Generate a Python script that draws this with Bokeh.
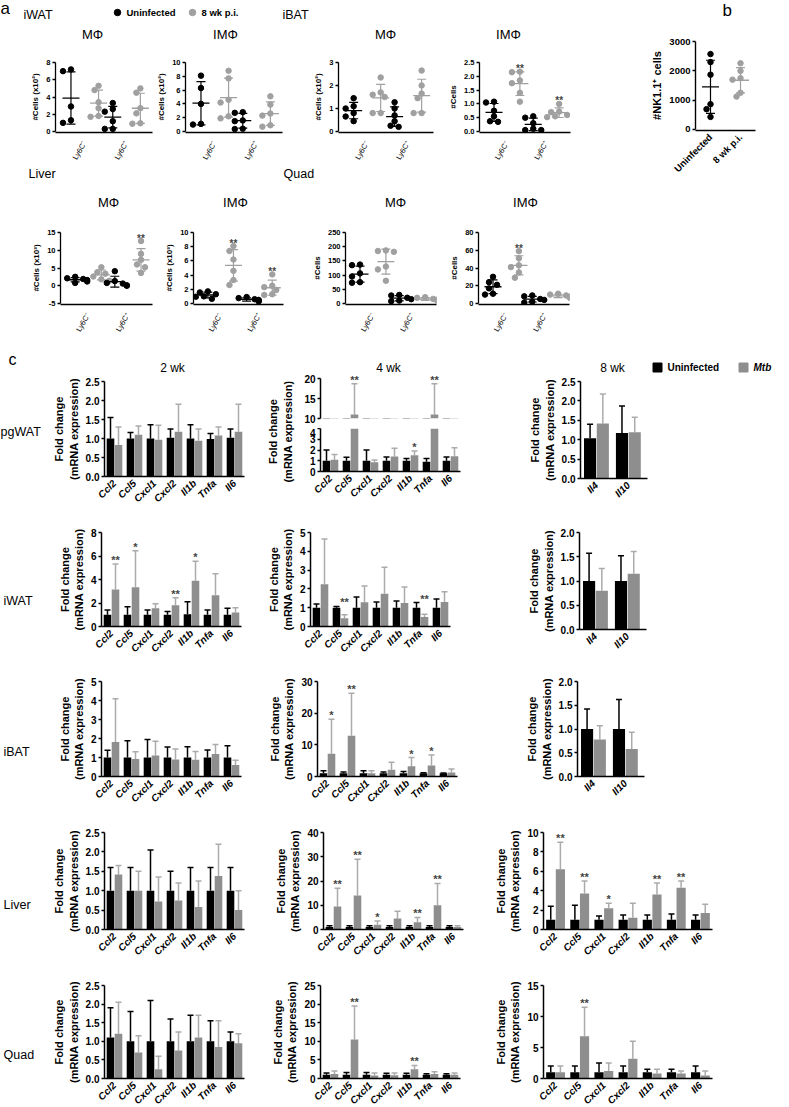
import numpy as np
from bokeh.plotting import figure
from bokeh.models import (Range1d, FixedTicker, Whisker, TeeHead, ColumnDataSource,
                          Label, LabelSet, NumeralTickFormatter)
from bokeh.layouts import row, column
from bokeh.embed import file_html
from bokeh.resources import INLINE
from bokeh.core.properties import value

FONT = "Liberation Sans"
BLACK = "#000000"
DOT_GRAY = "#a0a0a0"
BAR_GRAY = "#8e8e8e"
ERR_GRAY = "#ababab"

# ---------------- panel a / b data ----------------
LY6C = ["Ly6C\u207b", "Ly6C\u207a"]
iwat_mf_uninf = [[7.0, 7.2, 2.9, 1.3, 1.0], [3.3, 2.6, 2.3, 1.2, 0.3, 0.3]]
iwat_mf_inf = [[5.3, 4.8, 3.4, 2.7, 1.8, 1.7], [5.0, 4.5, 2.7, 2.1, 0.9, 0.95]]
iwat_imf_uninf = [[8.1, 6.3, 4.0, 1.1, 1.0], [2.8, 2.7, 1.6, 1.5, 0.4, 0.35]]
iwat_imf_inf = [[8.8, 7.7, 4.6, 4.2, 2.2, 1.9], [5.1, 3.9, 2.6, 2.3, 0.9, 0.7]]
ibat_mf_uninf = [[1.45, 1.1, 1.0, 0.8, 0.65, 0.45], [1.27, 1.0, 0.7, 0.45, 0.25, 0.2]]
ibat_mf_inf = [[2.35, 1.7, 1.6, 1.5, 0.8, 0.8], [2.65, 2.0, 1.65, 1.45, 0.8, 0.8]]
ibat_imf_uninf = [[1.08, 1.05, 0.75, 0.55, 0.37, 0.35], [0.55, 0.5, 0.3, 0.1, 0.05, 0.05]]
ibat_imf_inf = [[2.17, 2.15, 1.85, 1.75, 1.4, 1.08], [1.0, 0.72, 0.7, 0.6, 0.55, 0.52]]
liver_mf_uninf = [[2.5, 2.1, 1.9, 1.6, 1.2, 0.8], [4.1, 1.3, 0.8, 0.6, 0.1, 0.0]]
liver_mf_inf = [[5.2, 3.8, 3.4, 2.6, 1.8, 1.4], [12.6, 9.0, 7.3, 6.0, 5.2, 3.6]]
liver_imf_uninf = [[1.7, 1.55, 1.3, 1.0, 0.95, 0.65], [0.9, 0.75, 0.6, 0.5, 0.35, 0.3]]
liver_imf_inf = [[8.1, 7.4, 6.2, 4.6, 3.3, 2.6], [4.1, 2.5, 2.3, 1.9, 1.3, 1.2]]
quad_mf_uninf = [[137, 135, 106, 95, 75, 73], [30, 28, 20, 15, 10, 8]]
quad_mf_inf = [[187, 185, 182, 130, 120, 80], [22, 20, 16, 14, 12, 10]]
quad_imf_uninf = [[30, 24, 21, 17, 11, 10], [9, 8, 5, 4, 2, 1]]
quad_imf_inf = [[59, 51, 43, 41, 35, 29], [11, 10, 9, 8, 7, 6]]
nk_groups = ["Uninfected", "8 wk p.i."]
nk_uninf = [2575, 2300, 1870, 860, 690, 425]
nk_inf = [2260, 2000, 1750, 1700, 1250, 1120]

# ---------------- panel c data ----------------
genes = ["Ccl2", "Ccl5", "Cxcl1", "Cxcl2", "Il1b", "Tnfa", "Il6"]
genes_8wk = ["Il4", "Il10"]

pgwat_2wk_u = [1.00, 1.00, 1.00, 1.02, 1.00, 0.99, 1.02]
pgwat_2wk_usd = [0.55, 0.16, 0.36, 0.23, 0.36, 0.14, 0.23]
pgwat_2wk_m = [0.83, 1.10, 0.97, 1.18, 0.94, 1.08, 1.18]
pgwat_2wk_msd = [0.47, 0.23, 0.38, 0.72, 0.31, 0.22, 0.72]
pgwat_2wk_sig = ["", "", "", "", "", "", ""]

pgwat_4wk_u = [1.0, 1.0, 1.0, 1.0, 1.0, 0.9, 1.0]
pgwat_4wk_usd = [1.0, 0.33, 1.0, 0.36, 0.2, 0.3, 0.36]
pgwat_4wk_m = [1.1, 11.0, 0.87, 1.4, 1.52, 11.0, 1.43]
pgwat_4wk_msd = [0.48, 7.7, 0.21, 0.77, 0.38, 7.7, 0.77]
pgwat_4wk_sig = ["", "**", "", "", "*", "**", ""]

pgwat_8wk_u = [1.04, 1.17]
pgwat_8wk_usd = [0.36, 0.70]
pgwat_8wk_m = [1.42, 1.19]
pgwat_8wk_msd = [0.76, 0.39]

iwat_2wk_u = [1.0, 1.0, 1.0, 1.0, 1.05, 1.0, 1.0]
iwat_2wk_usd = [0.41, 0.69, 0.4, 0.27, 1.06, 0.4, 0.55]
iwat_2wk_m = [3.15, 3.35, 1.55, 1.8, 3.89, 2.65, 1.2]
iwat_2wk_msd = [2.17, 3.1, 0.39, 0.65, 1.66, 1.83, 0.4]
iwat_2wk_sig = ["**", "*", "", "**", "*", "", ""]

iwat_4wk_u = [1.0, 1.0, 1.0, 1.0, 1.0, 1.0, 1.0]
iwat_4wk_usd = [0.2, 0.07, 0.57, 0.3, 0.35, 0.27, 0.46]
iwat_4wk_m = [2.25, 0.44, 1.29, 1.74, 1.25, 0.5, 1.3]
iwat_4wk_msd = [2.4, 0.19, 0.86, 1.41, 0.85, 0.15, 0.55]
iwat_4wk_sig = ["", "**", "", "", "", "**", ""]

iwat_8wk_u = [1.0, 1.0]
iwat_8wk_usd = [0.57, 0.52]
iwat_8wk_m = [0.8, 1.15]
iwat_8wk_msd = [0.46, 0.46]

ibat_2wk_u = [1.0, 1.0, 1.0, 1.0, 1.0, 1.0, 1.0]
ibat_2wk_usd = [0.38, 0.88, 0.95, 0.55, 0.57, 0.4, 0.62]
ibat_2wk_m = [1.81, 0.92, 1.1, 0.9, 0.88, 1.18, 0.6]
ibat_2wk_msd = [2.28, 0.38, 0.75, 0.55, 0.44, 0.5, 0.25]
ibat_2wk_sig = ["", "", "", "", "", "", ""]

ibat_4wk_u = [1.0, 1.0, 1.0, 1.0, 1.0, 1.0, 1.0]
ibat_4wk_usd = [0.8, 0.4, 0.8, 0.4, 0.6, 0.2, 0.1]
ibat_4wk_m = [7.2, 12.9, 1.05, 2.1, 3.2, 3.5, 1.26]
ibat_4wk_msd = [10.9, 13.4, 0.75, 2.4, 2.8, 3.3, 1.14]
ibat_4wk_sig = ["*", "**", "", "", "*", "*", ""]

ibat_8wk_u = [1.0, 1.0]
ibat_8wk_usd = [0.42, 0.62]
ibat_8wk_m = [0.78, 0.58]
ibat_8wk_msd = [0.29, 0.35]

liver_2wk_u = [1.0, 1.0, 1.0, 1.0, 1.0, 1.0, 1.0]
liver_2wk_usd = [0.6, 0.6, 1.05, 0.5, 0.6, 0.6, 0.6]
liver_2wk_m = [1.42, 1.0, 0.72, 0.75, 0.58, 1.38, 0.5]
liver_2wk_msd = [0.23, 0.5, 0.63, 0.45, 0.67, 0.82, 0.5]
liver_2wk_sig = ["", "", "", "", "", "", ""]

liver_4wk_u = [1.0, 1.0, 1.0, 1.0, 1.0, 1.0, 1.0]
liver_4wk_usd = [0.5, 0.5, 0.5, 0.5, 0.5, 0.5, 0.5]
liver_4wk_m = [9.5, 14.0, 2.0, 4.5, 3.0, 10.0, 1.0]
liver_4wk_msd = [7.5, 15.0, 1.5, 3.0, 2.0, 9.0, 0.5]
liver_4wk_sig = ["**", "**", "*", "", "**", "**", ""]

liver_8wk_u = [1.0, 1.0, 1.0, 1.0, 1.0, 1.0, 1.0]
liver_8wk_usd = [1.4, 1.5, 0.4, 0.5, 0.5, 0.6, 0.5]
liver_8wk_m = [6.2, 3.7, 2.2, 1.2, 3.6, 4.3, 1.7]
liver_8wk_msd = [2.8, 1.3, 0.5, 1.5, 1.2, 0.7, 0.9]
liver_8wk_sig = ["**", "**", "*", "", "**", "**", ""]

quad_2wk_u = [1.1, 1.0, 1.0, 1.0, 1.0, 1.0, 1.0]
quad_2wk_usd = [0.8, 0.8, 1.1, 0.6, 0.7, 0.55, 0.25]
quad_2wk_m = [1.2, 0.7, 0.25, 0.75, 1.1, 0.85, 0.95]
quad_2wk_msd = [0.85, 0.45, 0.35, 0.5, 0.6, 0.7, 0.25]
quad_2wk_sig = ["", "", "", "", "", "", ""]

quad_4wk_u = [1.0, 1.0, 1.0, 1.0, 1.0, 1.0, 1.0]
quad_4wk_usd = [0.5, 0.6, 0.6, 0.4, 0.4, 0.3, 0.3]
quad_4wk_m = [1.2, 10.5, 0.8, 0.9, 2.5, 1.2, 1.0]
quad_4wk_msd = [0.8, 9.0, 0.7, 0.6, 1.0, 0.6, 0.5]
quad_4wk_sig = ["", "**", "", "", "**", "", ""]

quad_8wk_u = [1.0, 1.0, 1.0, 1.0, 1.0, 1.0, 1.0]
quad_8wk_usd = [1.0, 1.0, 1.5, 1.0, 0.5, 0.5, 1.0]
quad_8wk_m = [1.0, 6.8, 1.2, 3.2, 0.8, 0.8, 0.5]
quad_8wk_msd = [1.0, 4.7, 1.3, 2.8, 0.7, 0.4, 0.7]
quad_8wk_sig = ["", "**", "", "", "", "", ""]

YLAB = "Fold change\n(mRNA expression)"


# ---------------- helpers ----------------
def make_fig(dims, xr, yr, xaxis=True, yaxis=True):
    lb, fw, rb, tb, fh, bb = dims
    p = figure(frame_width=fw, frame_height=fh, min_border_left=lb, min_border_right=rb,
               min_border_top=tb, min_border_bottom=bb,
               x_range=Range1d(*xr), y_range=Range1d(*yr),
               x_axis_location="below" if xaxis else None,
               y_axis_location="left" if yaxis else None,
               output_backend="svg", toolbar_location=None)
    p.xgrid.visible = False
    p.ygrid.visible = False
    p.outline_line_color = None
    return p


def style(p, tick_fs, lab_fs, lw=1.4, tick_out=3):
    for ax in p.axis:
        ax.axis_line_width = lw
        ax.axis_line_color = BLACK
        ax.major_tick_line_width = lw
        ax.major_tick_line_color = BLACK
        ax.major_tick_out = tick_out
        ax.major_tick_in = 0
        ax.minor_tick_line_color = None
        ax.major_label_text_font = FONT
        ax.major_label_text_font_style = "bold"
        ax.major_label_text_font_size = tick_fs
        ax.major_label_text_color = BLACK
        ax.major_label_standoff = 2
        ax.axis_label_text_font = FONT
        ax.axis_label_text_font_style = "bold"
        ax.axis_label_text_font_size = lab_fs
        ax.axis_label_text_color = BLACK
        ax.axis_label_standoff = 3


def lab(p, x, y, text, size="12px", style_="normal", align="left", baseline="middle",
        angle=0.0, color="black"):
    p.add_layout(Label(x=x, y=y, text=text, text_font=FONT,
                       text_font_size=size, text_font_style=style_, text_align=align,
                       text_baseline=baseline, angle=angle, text_color=color))


def text_fig(w, h):
    p = figure(frame_width=w, frame_height=h, x_range=Range1d(0, w), y_range=Range1d(0, h),
               x_axis_location=None, y_axis_location=None, min_border_left=0,
               min_border_right=0, min_border_top=0, min_border_bottom=0,
               output_backend="svg", toolbar_location=None)
    p.xgrid.visible = False
    p.ygrid.visible = False
    p.outline_line_color = None
    return p


def swarm(vals, ppx, ppy, d=5.5, step=4.0):
    offs = np.zeros(len(vals))
    placed = []
    for i in np.argsort(-np.asarray(vals)):
        y = vals[i] * ppy
        x = 0.0
        for k in [0, -1, 1, -2, 2, -3, 3]:
            x = k * step
            if all((x - px) ** 2 + (y - py) ** 2 >= d * d for px, py in placed):
                break
        placed.append((x, y))
        offs[i] = x / ppx
    return offs


def draw_group(p, cx, vals, col, ppx, ppy, star, star_fs="10px"):
    vals = np.asarray(vals, float)
    xs = cx + swarm(vals, ppx, ppy)
    p.scatter(xs, vals, size=5.5, color=col)
    mu = vals.mean()
    sd = vals.std(ddof=1)
    p.scatter([cx], [mu], marker="dash", size=17, line_color=col, line_width=1.3)
    src = ColumnDataSource(dict(x=[cx], lo=[mu - sd], hi=[mu + sd]))
    p.add_layout(Whisker(source=src, base="x", lower="lo", upper="hi", line_color=col,
                         line_width=1.2,
                         upper_head=TeeHead(size=9, line_color=col, line_width=1.2),
                         lower_head=TeeHead(size=9, line_color=col, line_width=1.2)))
    if star:
        top = max(vals.max(), mu + sd) + 3.0 / ppy
        p.add_layout(Label(x=cx, y=top, text=star, text_align="center",
                           text_baseline="alphabetic", text_font=FONT,
                           text_font_size=star_fs, text_font_style="bold"))


def dot_panel(dims, uninf, inf, yr, ticks, ylabel, fmt, stars):
    lb, fw, rb, tb, fh, bb = dims
    xr = (-0.7, 1.62)
    pad = (yr[1] - yr[0]) * 0.015
    p = make_fig(dims, xr, (yr[0] - pad, yr[1] + pad))
    ppx = fw / (xr[1] - xr[0])
    ppy = fh / (yr[1] - yr[0] + 2 * pad)
    for g in range(2):
        draw_group(p, g - 0.33, uninf[g], BLACK, ppx, ppy, "")
        draw_group(p, g + 0.33, inf[g], DOT_GRAY, ppx, ppy, stars[g])
    style(p, "7.5px", "8px", lw=1.3)
    p.yaxis.ticker = FixedTicker(ticks=ticks)
    p.yaxis.bounds = (yr[0], yr[1])
    p.yaxis.formatter = NumeralTickFormatter(format=fmt)
    p.yaxis.axis_label = ylabel
    p.xaxis.ticker = FixedTicker(ticks=[0, 1])
    p.xaxis.major_label_overrides = {0: LY6C[0], 1: LY6C[1]}
    p.xaxis.major_tick_line_color = None
    p.xaxis.major_label_orientation = np.pi / 3
    p.xaxis.major_label_text_font_size = "7.5px"
    p.xaxis.major_label_text_font_style = "normal"
    p.xaxis.major_label_standoff = 6
    return p


def add_err(p, xs, means, sds, col):
    src = ColumnDataSource(dict(x=list(xs), lo=list(means),
                                hi=list(np.asarray(means) + np.asarray(sds))))
    p.add_layout(Whisker(source=src, base="x", lower="lo", upper="hi", line_color=col,
                         line_width=1.5, lower_head=None,
                         upper_head=TeeHead(size=6, line_color=col, line_width=1.5)))


def bar_panel(dims, labels, u, usd, m, msd, sig, yr, ticks, fmt, ylabel=YLAB,
              xaxis=True, keep=None, xr=None):
    n = len(labels)
    p = make_fig(dims, xr if xr else (-0.5, n - 0.5), yr, xaxis=xaxis)
    x = np.arange(n, dtype=float)
    u = np.asarray(u, float)
    m = np.asarray(m, float)
    usd = np.asarray(usd, float)
    msd = np.asarray(msd, float)
    p.vbar(x=x - 0.2, top=u, bottom=0, width=0.38, fill_color=BLACK, line_color=None)
    p.vbar(x=x + 0.2, top=m, bottom=0, width=0.38, fill_color=BAR_GRAY, line_color=None)
    tops = np.maximum(u + usd, m + msd)
    keep_u = np.ones(n, bool)
    keep_m = np.ones(n, bool)
    keep_s = np.ones(n, bool)
    if keep == "upper":
        keep_u = (u + usd) > yr[0]
        keep_m = (m + msd) > yr[0]
        keep_s = tops > yr[0]
    elif keep == "lower":
        keep_s = tops < ticks[-1]
    if keep_u.any():
        add_err(p, (x - 0.2)[keep_u], u[keep_u], usd[keep_u], BLACK)
    if keep_m.any():
        add_err(p, (x + 0.2)[keep_m], m[keep_m], msd[keep_m], ERR_GRAY)
    sig_f = [s if k else "" for s, k in zip(sig, keep_s)]
    if any(sig_f):
        src = ColumnDataSource(dict(x=list(x + 0.2), y=list(tops), t=sig_f))
        p.add_layout(LabelSet(source=src, x="x", y="y", text="t", text_align="center",
                              text_baseline="alphabetic", text_font=value(FONT),
                              text_font_size=value("11px"), text_font_style="bold"))
    style(p, "10px", "11px", lw=1.5)
    p.yaxis.ticker = FixedTicker(ticks=ticks)
    p.yaxis.bounds = (ticks[0], ticks[-1])
    p.yaxis.formatter = NumeralTickFormatter(format=fmt)
    if ylabel:
        p.yaxis.axis_label = ylabel
    if xaxis:
        p.xaxis.ticker = FixedTicker(ticks=list(range(n)))
        p.xaxis.major_label_overrides = {i: g for i, g in enumerate(labels)}
        p.xaxis.major_tick_line_color = None
        p.xaxis.major_label_orientation = np.pi / 4
        p.xaxis.major_label_text_font_style = "bold italic"
        p.xaxis.major_label_text_font_size = "10px"
    return p


def row_label_fig(h, y, text, x=3):
    p = text_fig(50, h)
    lab(p, x, y, text, size="12.5px")
    return p


# ---------------- panel a ----------------
head_a = text_fig(600, 45)
lab(head_a, 0, 37, "a", size="17px")
lab(head_a, 23, 31, "iWAT", size="12.5px")
head_a.scatter([117], [33], size=6.5, color=BLACK)
lab(head_a, 126, 33, "Uninfected", size="9.5px", style_="bold")
head_a.scatter([192], [33], size=6.5, color=DOT_GRAY)
lab(head_a, 201, 33, "8 wk p.i.", size="9.5px", style_="bold")
lab(head_a, 282, 31, "iBAT", size="12.5px")
lab(head_a, 92, 11, "M\u03a6", size="13px", align="center")
lab(head_a, 225, 11, "IM\u03a6", size="13px", align="center")
lab(head_a, 385, 11, "M\u03a6", size="13px", align="center")
lab(head_a, 508, 11, "IM\u03a6", size="13px", align="center")

CELLS2 = "#Cells (x10\u00b2)"
CELLS3 = "#Cells (x10\u00b3)"
a1 = dot_panel((55, 97, 2, 16, 71, 26), iwat_mf_uninf, iwat_mf_inf, (0, 8), [0, 2, 4, 6, 8],
               CELLS2, "0", ["", ""])
a2 = dot_panel((26, 97, 29, 16, 71, 26), iwat_imf_uninf, iwat_imf_inf, (0, 10),
               [0, 2, 4, 6, 8, 10], CELLS2, "0", ["", ""])
a3 = dot_panel((26, 95, 13, 16, 71, 26), ibat_mf_uninf, ibat_mf_inf, (0, 3), [0, 1, 2, 3],
               CELLS2, "0", ["", ""])
a4 = dot_panel((32, 91, 37, 16, 71, 26), ibat_imf_uninf, ibat_imf_inf, (0, 2.5),
               [0, 0.5, 1.0, 1.5, 2.0, 2.5], "#Cells", "0.0", ["**", "**"])

mid_a = text_fig(600, 44)
lab(mid_a, 28, 37, "Liver", size="12.5px")
lab(mid_a, 283, 37, "Quad", size="12.5px")
lab(mid_a, 108, 8, "M\u03a6", size="13px", align="center")
lab(mid_a, 235, 8, "IM\u03a6", size="13px", align="center")
lab(mid_a, 395, 8, "M\u03a6", size="13px", align="center")
lab(mid_a, 525, 8, "IM\u03a6", size="13px", align="center")

a5 = dot_panel((60, 92, 10, 21, 73, 30), liver_mf_uninf, liver_mf_inf, (-5, 15),
               [-5, 0, 5, 10, 15], CELLS3, "0", ["", "**"])
a6 = dot_panel((28, 90, 2, 21, 73, 30), liver_imf_uninf, liver_imf_inf, (0, 10),
               [0, 2, 4, 6, 8, 10], CELLS3, "0", ["**", "**"])
a7 = dot_panel((60, 91, 11, 21, 73, 30), quad_mf_uninf, quad_mf_inf, (0, 250),
               [0, 50, 100, 150, 200, 250], "#Cells", "0", ["", ""])
a8 = dot_panel((28, 91, 37, 21, 73, 30), quad_imf_uninf, quad_imf_inf, (0, 80),
               [0, 20, 40, 60, 80], "#Cells", "0", ["**", ""])

# panel b
head_b = text_fig(173, 22)
lab(head_b, 27, 12, "b", size="17px")
bxr = (-0.5, 1.5)
bfig = make_fig((88, 60, 25, 18, 90, 196), bxr, (-40, 3040))
bppx = 60 / 2.0
bppy = 90 / 3080.0
draw_group(bfig, 0, nk_uninf, BLACK, bppx, bppy, "")
draw_group(bfig, 1, nk_inf, DOT_GRAY, bppx, bppy, "")
style(bfig, "9.5px", "11px", lw=1.4)
bfig.yaxis.ticker = FixedTicker(ticks=[0, 1000, 2000, 3000])
bfig.yaxis.bounds = (0, 3000)
bfig.yaxis.axis_label = "#NK1.1\u207a cells"
bfig.xaxis.ticker = FixedTicker(ticks=[0, 1])
bfig.xaxis.major_label_overrides = {0: nk_groups[0], 1: nk_groups[1]}
bfig.xaxis.major_tick_line_color = None
bfig.xaxis.major_label_orientation = np.pi / 4

left_a = column(head_a, row(a1, a2, a3, a4), mid_a, row(a5, a6, a7, a8))
top = row(left_a, column(head_b, bfig))

# ---------------- panel c ----------------
head_c = text_fig(773, 36)
lab(head_c, 8, 15, "c", size="16px")
lab(head_c, 172, 7, "2 wk", size="12px", align="center")
lab(head_c, 388, 7, "4 wk", size="12px", align="center")
lab(head_c, 612, 7, "8 wk", size="12px", align="center")
head_c.scatter([657], [7], marker="square", size=9, color=BLACK)
lab(head_c, 667, 7, "Uninfected", size="10px", style_="bold")
head_c.scatter([743], [7], marker="square", size=9, color=BAR_GRAY)
lab(head_c, 753, 7, "Mtb", size="10px", style_="bold italic")

T25 = [0, 0.5, 1.0, 1.5, 2.0, 2.5]
T20 = [0, 0.5, 1.0, 1.5, 2.0]
X2 = (-0.5, 1.6)

# row 1: pgWAT (height 135)
r1 = row_label_fig(135, 85, "pgWAT", x=0)
c11 = bar_panel((51, 140, 14, 7, 95, 33), genes, pgwat_2wk_u, pgwat_2wk_usd, pgwat_2wk_m,
                pgwat_2wk_msd, pgwat_2wk_sig, (0, 2.5), T25, "0.0")
c12_lab = text_fig(40, 135)
lab(c12_lab, 22, 85, YLAB, size="11px", style_="bold", align="center", angle=np.pi / 2)
c12_up = bar_panel((22, 140, 66, 0, 44, 10), genes, pgwat_4wk_u, pgwat_4wk_usd, pgwat_4wk_m,
                   pgwat_4wk_msd, pgwat_4wk_sig, (10, 21), [10, 15, 20], "0", ylabel=None,
                   xaxis=False, keep="upper")
c12_lo = bar_panel((22, 140, 66, 0, 43, 38), genes, pgwat_4wk_u, pgwat_4wk_usd, pgwat_4wk_m,
                   pgwat_4wk_msd, pgwat_4wk_sig, (0, 4), [0, 1, 2, 3, 4], "0", ylabel=None,
                   keep="lower")
c13 = bar_panel((50, 67, 125, 7, 97, 31), genes_8wk, pgwat_8wk_u, pgwat_8wk_usd, pgwat_8wk_m,
                pgwat_8wk_msd, ["", ""], (0, 2.5), T25, "0.0", xr=X2)
row1 = row(r1, c11, c12_lab, column(c12_up, c12_lo), c13)

# row 2: iWAT (height 144)
r2 = row_label_fig(144, 76, "iWAT")
c21 = bar_panel((51, 140, 23, 21, 94, 29), genes, iwat_2wk_u, iwat_2wk_usd, iwat_2wk_m,
                iwat_2wk_msd, iwat_2wk_sig, (0, 8), [0, 2, 4, 6, 8], "0")
c22 = bar_panel((44, 140, 75, 21, 94, 29), genes, iwat_4wk_u, iwat_4wk_usd, iwat_4wk_m,
                iwat_4wk_msd, iwat_4wk_sig, (0, 5), [0, 1, 2, 3, 4, 5], "0")
c23 = bar_panel((50, 67, 125, 20, 97, 27), genes_8wk, iwat_8wk_u, iwat_8wk_usd, iwat_8wk_m,
                iwat_8wk_msd, ["", ""], (0, 2.0), T20, "0.0", xr=X2)
row2 = row(r2, c21, c22, c23)

# row 3: iBAT (height 151)
r3 = row_label_fig(151, 81, "iBAT")
c31 = bar_panel((51, 140, 24, 20, 95, 36), genes, ibat_2wk_u, ibat_2wk_usd, ibat_2wk_m,
                ibat_2wk_msd, ibat_2wk_sig, (0, 5), [0, 1, 2, 3, 4, 5], "0")
c32 = bar_panel((52, 140, 66, 20, 95, 36), genes, ibat_4wk_u, ibat_4wk_usd, ibat_4wk_m,
                ibat_4wk_msd, ibat_4wk_sig, (0, 30), [0, 10, 20, 30], "0")
c33 = bar_panel((50, 67, 125, 20, 95, 36), genes_8wk, ibat_8wk_u, ibat_8wk_usd, ibat_8wk_m,
                ibat_8wk_msd, ["", ""], (0, 2.0), T20, "0.0", xr=X2)
row3 = row(r3, c31, c32, c33)

# row 4: Liver (height 153)
r4 = row_label_fig(153, 81, "Liver")
c41 = bar_panel((51, 140, 27, 20, 97, 36), genes, liver_2wk_u, liver_2wk_usd, liver_2wk_m,
                liver_2wk_msd, liver_2wk_sig, (0, 2.5), T25, "0.0")
c42 = bar_panel((52, 140, 28, 20, 97, 36), genes, liver_4wk_u, liver_4wk_usd, liver_4wk_m,
                liver_4wk_msd, liver_4wk_sig, (0, 40), [0, 10, 20, 30, 40], "0")
c43 = bar_panel((50, 169, 50, 20, 97, 36), genes, liver_8wk_u, liver_8wk_usd, liver_8wk_m,
                liver_8wk_msd, liver_8wk_sig, (0, 10), [0, 2, 4, 6, 8, 10], "0")
row4 = row(r4, c41, c42, c43)

# row 5: Quad (height 141)
r5 = row_label_fig(141, 72, "Quad")
c51 = bar_panel((51, 140, 24, 20, 93, 28), genes, quad_2wk_u, quad_2wk_usd, quad_2wk_m,
                quad_2wk_msd, quad_2wk_sig, (0, 2.5), T25, "0.0")
c52 = bar_panel((52, 140, 31, 20, 93, 28), genes, quad_4wk_u, quad_4wk_usd, quad_4wk_m,
                quad_4wk_msd, quad_4wk_sig, (0, 25), [0, 5, 10, 15, 20, 25], "0")
c53 = bar_panel((50, 169, 50, 20, 93, 28), genes, quad_8wk_u, quad_8wk_usd, quad_8wk_m,
                quad_8wk_msd, quad_8wk_sig, (0, 15), [0, 5, 10, 15], "0")
row5 = row(r5, c51, c52, c53)

layout = column(top, head_c, row1, row2, row3, row4, row5)

with open("out.html", "w") as f:
    f.write(file_html(layout, INLINE))
